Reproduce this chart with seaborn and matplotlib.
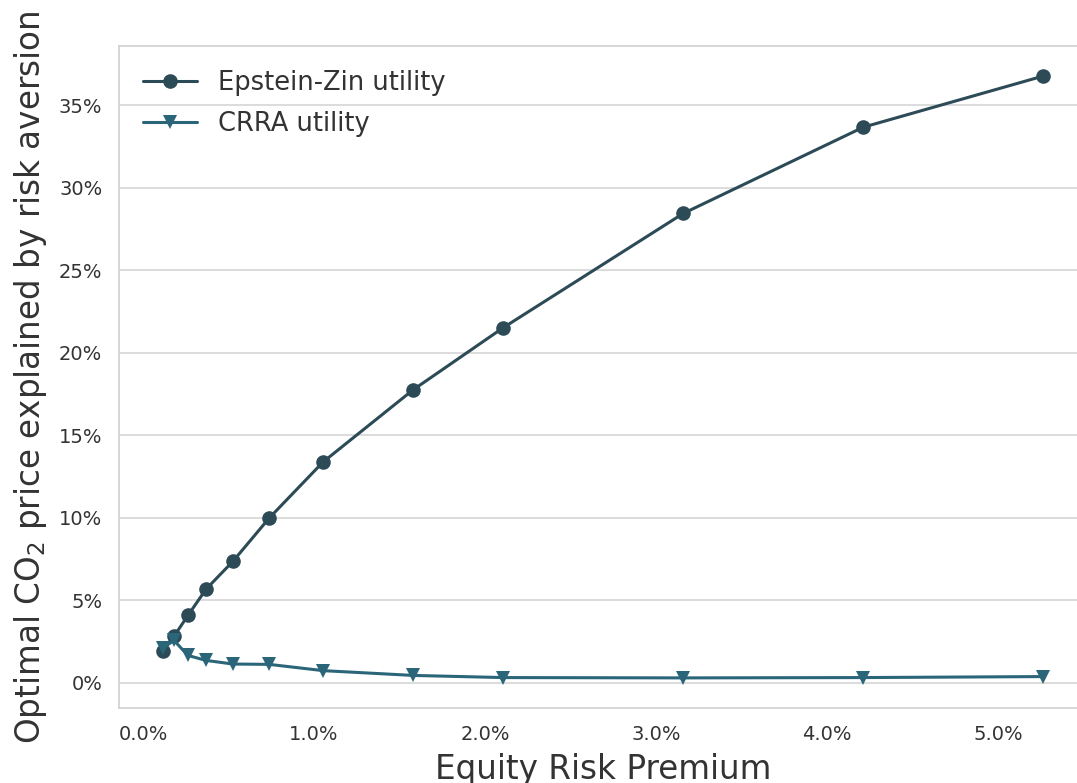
import matplotlib
matplotlib.use("Agg")
import matplotlib.pyplot as plt
import matplotlib.ticker as mticker
import seaborn as sns
import pandas as pd

# Equity risk premium (%)
erp = [0.117, 0.181, 0.263, 0.368, 0.526, 0.737, 1.053, 1.579, 2.105, 3.158, 4.211, 5.263]
# Share of optimal CO2 price explained by risk aversion (%)
epstein_zin = [1.94, 2.80, 4.07, 5.65, 7.35, 9.96, 13.37, 17.74, 21.50, 28.43, 33.66, 36.76]
crra = [2.10, 2.55, 1.64, 1.34, 1.12, 1.10, 0.72, 0.43, 0.30, 0.28, 0.30, 0.36]

series_names = ["Epstein-Zin utility", "CRRA utility"]
colors = ["#2c4b57", "#2a6579"]

sns.set_theme(style="whitegrid")
plt.rcParams["font.family"] = ["DejaVu Sans"]

fig = plt.figure(figsize=(10.77, 7.83), dpi=100)
ax = fig.add_axes([0.1105, 0.0958, 0.899, 0.8455])

df_ez = pd.DataFrame({"x": erp, "y": epstein_zin})
df_cr = pd.DataFrame({"x": erp, "y": crra})

sns.lineplot(data=df_ez, x="x", y="y", ax=ax, color=colors[0], marker="o",
             markersize=10.5, linewidth=2.2, markeredgewidth=0, label=series_names[0])
sns.lineplot(data=df_cr, x="x", y="y", ax=ax, color=colors[1], marker="v",
             markersize=10.5, linewidth=2.2, markeredgewidth=0, label=series_names[1])

ax.xaxis.grid(False)
ax.yaxis.grid(True, color="#d5d5d5", linewidth=1.2)
ax.yaxis.set_major_locator(mticker.MultipleLocator(5))
ax.xaxis.set_major_locator(mticker.MultipleLocator(1))
ax.yaxis.set_major_formatter(mticker.FuncFormatter(lambda v, p: f"{v:.0f}%"))
ax.xaxis.set_major_formatter(mticker.FuncFormatter(lambda v, p: f"{v:.1f}%"))
ax.tick_params(axis="both", labelsize=14, colors="#333333", pad=6)
for s in ax.spines.values():
    s.set_color("#d0d0d0")
    s.set_linewidth(1.2)

ax.set_xlabel("Equity Risk Premium", fontsize=23.5, color="#333333", labelpad=7)
ax.set_ylabel("Optimal CO$_2$ price explained by risk aversion", fontsize=23.5,
              color="#333333", labelpad=7)

leg = ax.legend(loc="upper left", frameon=False, fontsize=18.5,
                handlelength=2.1, borderaxespad=0.55, labelspacing=0.58)
for t in leg.get_texts():
    t.set_color("#333333")

fig.savefig("out.png", dpi=100)
